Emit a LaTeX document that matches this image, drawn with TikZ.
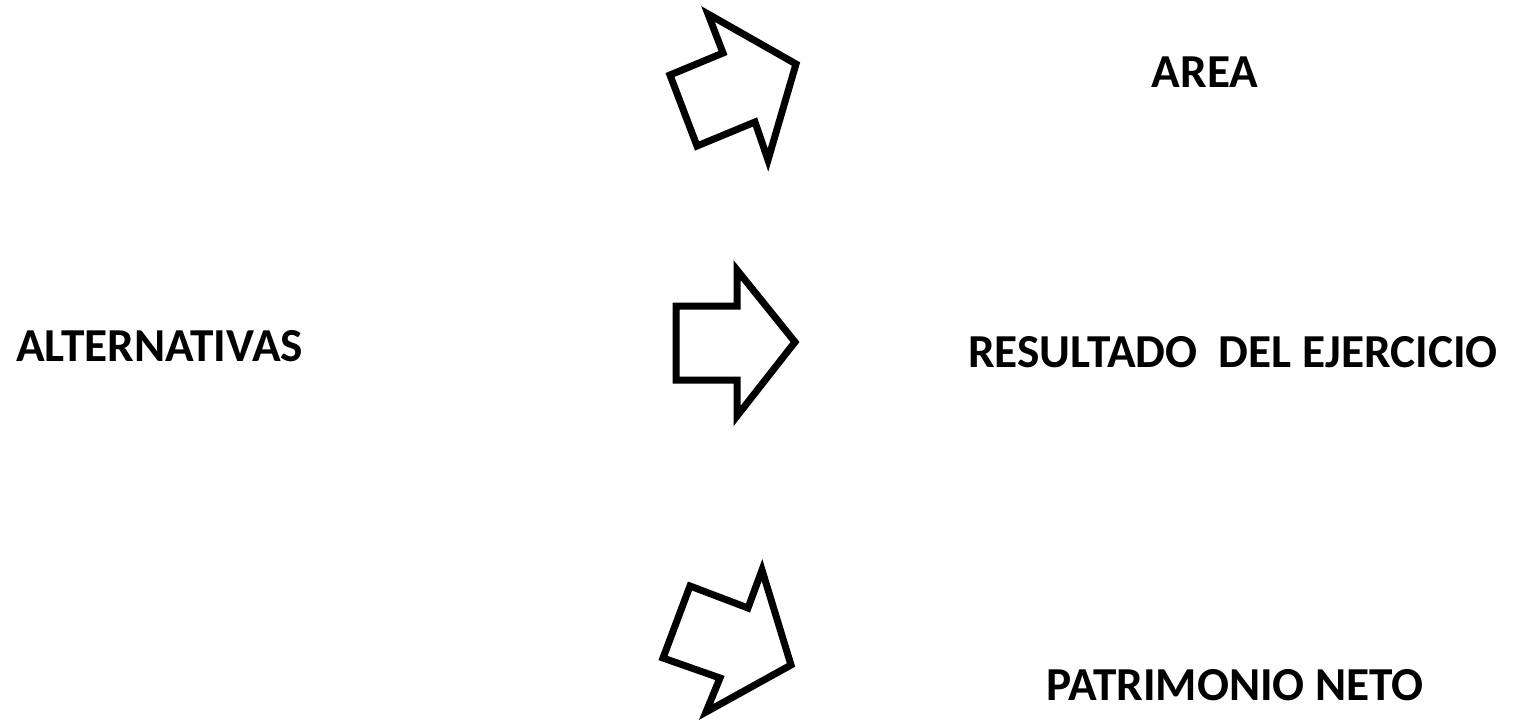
\documentclass[tikz,border=0pt]{standalone}
\usepackage{fontspec}
\setmainfont{Carlito}
\begin{document}
\begin{tikzpicture}[x=1pt,y=-1pt,
  arrowshape/.style={draw=black,line width=7pt,line join=miter,fill=white},
  lbl/.style={font=\fontsize{47.3}{50}\selectfont\bfseries,inner sep=0pt,anchor=base}]
\useasboundingbox[fill=white] (0,0) rectangle (1515,724);
% top arrow
\draw[arrowshape] (708,14) -- (796,64) -- (768,160) -- (755,122) -- (697,146) -- (670,75) -- (723,53) -- cycle;
% middle arrow
\draw[arrowshape] (676,306) -- (737,306) -- (737,270) -- (795,342) -- (737,416) -- (737,380) -- (676,380) -- cycle;
% bottom arrow
\draw[arrowshape] (762,570) -- (791,665) -- (706,712) -- (720,678) -- (663,658) -- (690,586) -- (748,608) -- cycle;
\node[lbl] (alt) at (159.5,361) {ALTERNATIVAS};
\node[lbl] (area) at (1205,87) {AREA};
\node[lbl] (res) at (1233,367) {RESULTADO\ \ DEL EJERCICIO};
\node[lbl] (pat) at (1235,700) {PATRIMONIO NETO};
\end{tikzpicture}
\end{document}
